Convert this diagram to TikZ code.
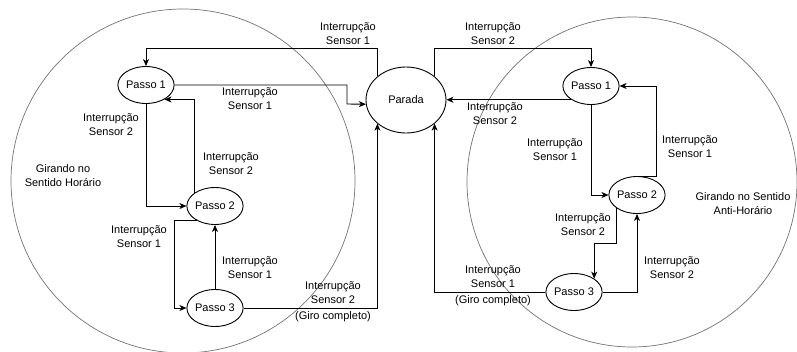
\documentclass[tikz,border=0pt]{standalone}
\usepackage{fontspec}
\setmainfont{Liberation Sans}
\usetikzlibrary{shapes.geometric,arrows.meta}

\begin{document}
\begin{tikzpicture}[x=1pt,y=-1pt,
    estado/.style={draw, ellipse, line width=0.9pt, minimum width=48pt, minimum height=37pt, inner sep=0pt, font=\fontsize{11}{13}\selectfont},
    rotulo/.style={align=center, font=\fontsize{11}{14}\selectfont},
    seta/.style={draw, line width=0.9pt, -{Stealth[length=7pt,width=6pt,inset=2pt]}},
    regiao/.style={draw=black!55, line width=0.7pt}]
    \useasboundingbox (0,0) rectangle (797,351);
    % regioes de giro
    \draw[regiao] (183,181) circle (172);
    \draw[regiao] (632,182) circle (165);
    \node[rotulo] (horario) at (63,176) {Girando no\\Sentido Horário};
    \node[rotulo] (antihorario) at (743,204) {Girando no Sentido\\Anti-Horário};
    % estados
    \node[estado, minimum width=80pt, minimum height=66pt] (parada) at (406,100) {Parada};
    \node[estado] (p1e) at (146,85) {Passo 1};
    \node[estado] (p2e) at (215,206) {Passo 2};
    \node[estado] (p3e) at (215,308) {Passo 3};
    \node[estado] (p1d) at (591,86) {Passo 1};
    \node[estado] (p2d) at (637,195) {Passo 2};
    \node[estado] (p3d) at (574,292) {Passo 3};
    % sentido horario
    \draw[seta] (parada.north west) -- (parada.north west |- 0,48) -| (p1e.north);
    \node[rotulo] (l1) at (348,34) {Interrupção\\Sensor 1};
    \draw[seta] (p1e.east) -| (347,104) -- (parada.186);
    \node[rotulo] (l2) at (250,99) {Interrupção\\Sensor 1};
    \draw[seta] (p1e.south) |- (p2e.west);
    \node[rotulo] (l3) at (111,125) {Interrupção\\Sensor 2};
    \draw[seta] (p2e.north west) |- (p1e.-38);
    \node[rotulo] (l4) at (231,164) {Interrupção\\Sensor 2};
    \draw[seta] (p2e.218) -- ++(-22,0) |- (p3e.west);
    \node[rotulo] (l5) at (139,237) {Interrupção\\Sensor 1};
    \draw[seta] (p3e.north) -- (p2e.south);
    \node[rotulo] (l6) at (250,268) {Interrupção\\Sensor 1};
    \draw[seta] (p3e.east) -| (parada.south west);
    \node[rotulo] (l7) at (333,293) {Interrupção\\Sensor 2};
    \node[rotulo] (g1) at (333,317) {(Giro completo)};
    % sentido anti-horario
    \draw[seta] (parada.north east) -- (parada.north east |- 0,48) -| (p1d.north);
    \node[rotulo] (l8) at (493,34) {Interrupção\\Sensor 2};
    \draw[seta] (p1d.215) -- (p1d.215 -| parada.east);
    \node[rotulo] (l9) at (495,114) {Interrupção\\Sensor 2};
    \draw[seta] (p1d.south) |- (p2d.west);
    \node[rotulo] (l10) at (555,150) {Interrupção\\Sensor 1};
    \draw[seta] (p2d.north) -- ++(19,0) |- (p1d.east);
    \node[rotulo] (l11) at (690,147) {Interrupção\\Sensor 1};
    \draw[seta] (p2d.south west) -- (p2d.south west |- 0,243) -| (p3d.north east);
    \node[rotulo] (l12) at (583,225) {Interrupção\\Sensor 2};
    \draw[seta] (p3d.east) -| (p2d.south);
    \node[rotulo] (l13) at (672,268) {Interrupção\\Sensor 2};
    \draw[seta] (p3d.west) -| (parada.south east);
    \node[rotulo] (l14) at (493,277) {Interrupção\\Sensor 1};
    \node[rotulo] (g2) at (493,301) {(Giro completo)};
\end{tikzpicture}
\end{document}
